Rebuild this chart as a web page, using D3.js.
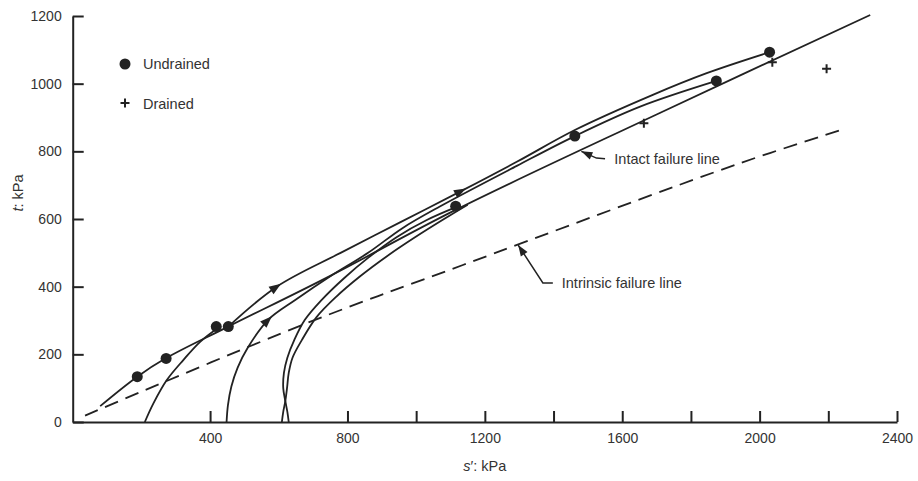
<!DOCTYPE html>
<html>
<head>
<meta charset="utf-8">
<script src="https://cdn.jsdelivr.net/npm/d3@7"></script>
<style>
  body { margin: 0; background: #fff; }
  svg { display: block; font-family: "Liberation Sans", Arial, sans-serif; }
</style>
</head>
<body>
<svg id="chart" width="918" height="481"></svg>
<script>
// ---- axis ticks ----
const xTicks = [400, 800, 1000, 1200, 1400, 1600, 1800, 2000, 2200, 2400];
const xTickLabels = [400, 800, 1200, 1600, 2000, 2400];
const yTicks = [0, 200, 400, 600, 800, 1000, 1200];

// ---- failure states [s', t] in kPa ----
const undrainedPoints = [[188, 134], [272, 188], [418, 282], [453, 282], [1115, 638], [1462, 845], [1874, 1008], [2029, 1093]];
const drainedPoints = [[1663, 883], [2037, 1063], [2195, 1044]];

// ---- failure lines [s', t] ----
const intactLine = [[80, 47], [188, 134], [272, 189], [453, 282], [750, 432], [1115, 627], [1700, 909], [2322, 1203]];
const intrinsicLine = [[36, 19], [681, 292], [1136, 464], [1943, 765], [2243, 865]];

// ---- stress paths [s', t] ----
const pathA = [[210, 0], [235, 55], [274, 124], [322, 183], [371, 237], [430, 283]];
const pathB = [[448, 0], [452, 50], [462, 105], [480, 160], [510, 220], [569, 302], [650, 362], [749, 430],
               [860, 500], [960, 573], [1069, 637], [1293, 757], [1462, 845], [1652, 932], [1874, 1008]];
const pathU = [[453, 282], [594, 400], [780, 500], [953, 590], [1132, 683], [1293, 769], [1462, 863],
               [1689, 967], [1846, 1031], [2029, 1093]];
const pathC = [[629, 0], [625, 30], [619, 62], [613, 100], [615, 145], [625, 190], [645, 242], [676, 302],
               [725, 361], [790, 425], [860, 485], [944, 547], [1031, 597], [1116, 635]];
const pathD = [[609, 0], [613, 30], [619, 62], [624, 100], [629, 145], [640, 190], [667, 242], [710, 310],
               [767, 370], [836, 430], [915, 490], [1000, 548], [1080, 599], [1150, 642]];

// direction arrows along the paths [s', t]
const arrowsU = [[594, 400], [1132, 683]];
const arrowsB = [[569, 302]];

// callouts: label, arrow tip, elbow, leader start, text anchor [s', t]
const intactNote = { text: "Intact failure line", tip: [1481, 800], elbow: [1525, 780], start: [1550, 778], at: [1577, 777] };
const intrinsicNote = { text: "Intrinsic failure line", tip: [1297, 523], elbow: [1369, 411], start: [1398, 411], at: [1424, 410] };

// ---- drawing ----
const ink = "#222";
const svg = d3.select("#chart");

const x = d3.scaleLinear().domain([0, 2400]).range([72.7, 897]);
const y = d3.scaleLinear().domain([0, 1200]).range([422, 16]);

const line = d3.line()
  .x(d => x(d[0]))
  .y(d => y(d[1]))
  .curve(d3.curveCatmullRom.alpha(0.5));

// axes
const xAxis = d3.axisBottom(x)
  .tickValues(xTicks)
  .tickSizeInner(-11)
  .tickSizeOuter(0)
  .tickPadding(11)
  .tickFormat(d => xTickLabels.includes(d) ? d : "");
const yAxis = d3.axisLeft(y)
  .tickValues(yTicks)
  .tickSizeInner(-11)
  .tickSizeOuter(0)
  .tickPadding(11)
  .tickFormat(d => d);

const gx = svg.append("g").attr("transform", `translate(0,${y(0)})`).call(xAxis);
const gy = svg.append("g").attr("transform", `translate(${x(0)},0)`).call(yAxis);
[gx, gy].forEach(g => {
  g.select(".domain").attr("stroke", ink).attr("stroke-width", 2);
  g.selectAll(".tick line").attr("stroke", ink).attr("stroke-width", 2);
  g.selectAll(".tick text").attr("fill", "#333").attr("font-size", 14)
    .attr("font-family", "'Liberation Sans', Arial, sans-serif");
});

// axis titles
const ty = svg.append("text")
  .attr("transform", `translate(23,193) rotate(-90)`)
  .attr("text-anchor", "middle")
  .attr("font-size", 14.5)
  .attr("fill", "#333");
ty.append("tspan").attr("font-style", "italic").text("t");
ty.append("tspan").text(": kPa");

const tx = svg.append("text")
  .attr("x", x(1200))
  .attr("y", 471)
  .attr("text-anchor", "middle")
  .attr("font-size", 14.5)
  .attr("fill", "#333");
tx.append("tspan").attr("font-style", "italic").text("s");
tx.append("tspan").text("\u2032: kPa");

// intrinsic failure line (dashed)
svg.append("path")
  .datum(intrinsicLine)
  .attr("d", line)
  .attr("fill", "none")
  .attr("stroke", ink)
  .attr("stroke-width", 1.8)
  .attr("stroke-dasharray", "14,8");

// solid lines and stress paths
const solid = {};
[["intact", intactLine], ["A", pathA], ["B", pathB], ["U", pathU], ["C", pathC], ["D", pathD]]
  .forEach(([key, pts]) => {
    solid[key] = svg.append("path")
      .datum(pts)
      .attr("d", line)
      .attr("fill", "none")
      .attr("stroke", ink)
      .attr("stroke-width", 1.8)
      .attr("stroke-linejoin", "round");
  });

// arrowhead: filled triangle with tip at (px,py) pointing along (dx,dy)
function arrowHead(px, py, dx, dy, len, half) {
  const n = Math.hypot(dx, dy) || 1;
  const ux = dx / n, uy = dy / n;
  const bx = px - ux * len, by = py - uy * len;
  const pts = [[px, py], [bx - uy * half, by + ux * half], [bx + uy * half, by - ux * half]];
  svg.append("path")
    .attr("d", "M" + pts.map(p => p.join(",")).join("L") + "Z")
    .attr("fill", ink);
}

// place arrows on a path at the point nearest each target
function pathArrows(pathSel, targets) {
  const node = pathSel.node();
  const total = node.getTotalLength();
  targets.forEach(t => {
    const tx0 = x(t[0]), ty0 = y(t[1]);
    let best = 0, bestD = Infinity;
    for (let l = 0; l <= total; l += 0.5) {
      const p = node.getPointAtLength(l);
      const d = (p.x - tx0) ** 2 + (p.y - ty0) ** 2;
      if (d < bestD) { bestD = d; best = l; }
    }
    const p0 = node.getPointAtLength(Math.max(0, best - 3));
    const p1 = node.getPointAtLength(Math.min(total, best + 3));
    const dx = p1.x - p0.x, dy = p1.y - p0.y;
    const n = Math.hypot(dx, dy) || 1;
    const c = node.getPointAtLength(best);
    arrowHead(c.x + dx / n * 5, c.y + dy / n * 5, dx, dy, 12, 4.5);
  });
}
pathArrows(solid.U, arrowsU);
pathArrows(solid.B, arrowsB);

// undrained failure points
svg.append("g").selectAll("circle")
  .data(undrainedPoints)
  .join("circle")
  .attr("cx", d => x(d[0]))
  .attr("cy", d => y(d[1]))
  .attr("r", 5.5)
  .attr("fill", ink);

// drained failure points
function plus(g, cx, cy) {
  g.append("path")
    .attr("d", `M${cx - 4.5},${cy}H${cx + 4.5}M${cx},${cy - 4.5}V${cy + 4.5}`)
    .attr("stroke", ink)
    .attr("stroke-width", 2);
}
const gd = svg.append("g");
drainedPoints.forEach(d => plus(gd, x(d[0]), y(d[1])));

// callouts
function callout(note) {
  svg.append("path")
    .attr("d", d3.line()([note.start, note.elbow, note.tip].map(p => [x(p[0]), y(p[1])])))
    .attr("fill", "none")
    .attr("stroke", ink)
    .attr("stroke-width", 1.5);
  const tx1 = x(note.tip[0]), ty1 = y(note.tip[1]);
  arrowHead(tx1, ty1, tx1 - x(note.elbow[0]), ty1 - y(note.elbow[1]), 11, 4);
  svg.append("text")
    .attr("x", x(note.at[0]))
    .attr("y", y(note.at[1]))
    .attr("dy", "0.35em")
    .attr("font-size", 14.5)
    .attr("fill", "#333")
    .text(note.text);
}
callout(intactNote);
callout(intrinsicNote);

// legend
const legend = svg.append("g");
legend.append("circle").attr("cx", 125).attr("cy", 64).attr("r", 5.5).attr("fill", ink);
legend.append("text").attr("x", 143).attr("y", 64).attr("dy", "0.35em")
  .attr("font-size", 14.5).attr("fill", "#333").text("Undrained");
plus(legend, 125, 103);
legend.append("text").attr("x", 143).attr("y", 104).attr("dy", "0.35em")
  .attr("font-size", 14.5).attr("fill", "#333").text("Drained");
</script>
</body>
</html>
